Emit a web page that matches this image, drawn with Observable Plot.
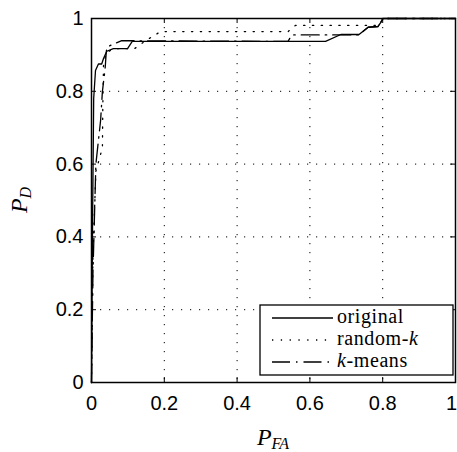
<!DOCTYPE html>
<html><head><meta charset="utf-8">
<script src="https://cdn.jsdelivr.net/npm/d3@7"></script>
<script src="https://cdn.jsdelivr.net/npm/@observablehq/plot@0.6"></script>
<style>html,body{margin:0;padding:0;background:#fff} svg{display:block}</style>
</head><body><div id="chart"></div>
<script>
// ---- data ----
const originalPFA = [0, 0.003, 0.006, 0.011, 0.019, 0.028, 0.033, 0.042, 0.06, 0.099, 0.112, 0.643, 0.685, 0.735, 0.76, 0.787, 0.8, 0.8, 1];
const originalPD  = [0, 0.45, 0.78, 0.857, 0.875, 0.875, 0.89, 0.91, 0.917, 0.917, 0.937, 0.937, 0.956, 0.956, 0.976, 0.978, 0.997, 1, 1];

const randomPFA = [0, 0.004, 0.012, 0.03, 0.031, 0.033, 0.04, 0.06, 0.118, 0.15, 0.19, 0.54, 0.56, 0.79, 0.8, 1];
const randomPD  = [0, 0.35, 0.58, 0.645, 0.755, 0.87, 0.905, 0.917, 0.917, 0.94, 0.964, 0.964, 0.981, 0.981, 1, 1];

const kmeansPFA = [0, 0.004, 0.012, 0.025, 0.03, 0.036, 0.038, 0.04, 0.042, 0.056, 0.083, 0.54, 0.55, 0.735, 0.76, 0.787, 0.8, 1];
const kmeansPD  = [0, 0.3, 0.6, 0.72, 0.8, 0.85, 0.87, 0.9, 0.921, 0.928, 0.939, 0.937, 0.955, 0.955, 0.976, 0.978, 1, 1];

const xTicks = [0, 0.2, 0.4, 0.6, 0.8, 1];
const yTicks = [0, 0.2, 0.4, 0.6, 0.8, 1];
const xTickLabels = ["0", "0.2", "0.4", "0.6", "0.8", "1"];
const yTickLabels = ["0", "0.2", "0.4", "0.6", "0.8", "1"];
const gridValues = [0.2, 0.4, 0.6, 0.8];
const seriesNames = ["original", "random-k", "k-means"];

// ---- styles ----
const seriesDash = ["none", "1.3,7.5", "18,6,1.5,6"];
const W = 457, H = 452, mL = 91, mR = 2, mT = 18, mB = 70;
const innerH = H - mT - mB, innerW = W - mL - mR;
const tickLen = 5;

const toRows = (xs, ys) => xs.map((x, i) => ({x, y: ys[i]}));
const series = [toRows(originalPFA, originalPD), toRows(randomPFA, randomPD), toRows(kmeansPFA, kmeansPD)];
const lastX = xTicks[xTicks.length - 1];

const chart = Plot.plot({
  width: W, height: H,
  marginLeft: mL, marginRight: mR, marginTop: mT, marginBottom: mB,
  x: {domain: [0, 1]},
  y: {domain: [0, 1]},
  style: {fontFamily: "'Liberation Sans', Arial, sans-serif", fontSize: "20px", color: "black", background: "white", overflow: "visible"},
  marks: [
    Plot.gridX(gridValues, {stroke: "black", strokeOpacity: 1, strokeWidth: 1, strokeDasharray: "1.2,7.8"}),
    Plot.gridY(gridValues, {stroke: "black", strokeOpacity: 1, strokeWidth: 1, strokeDasharray: "1.2,7.8"}),
    ...series.map((d, i) => Plot.line(d, {x: "x", y: "y", stroke: "black", strokeWidth: 1.3, strokeDasharray: seriesDash[i], curve: "linear"})),
    // inward ticks on all four sides
    Plot.tickX(xTicks, {x: d => d, stroke: "black", strokeWidth: 1, insetTop: innerH - tickLen}),
    Plot.tickX(xTicks, {x: d => d, stroke: "black", strokeWidth: 1, insetBottom: innerH - tickLen}),
    Plot.tickY(yTicks, {y: d => d, stroke: "black", strokeWidth: 1, insetRight: innerW - tickLen}),
    Plot.tickY(yTicks, {y: d => d, stroke: "black", strokeWidth: 1, insetLeft: innerW - tickLen}),
    Plot.frame({stroke: "black", strokeWidth: 1.5}),
    Plot.axisX(xTicks.filter(d => d !== lastX), {tickSize: 0, tickPadding: 13, tickFormat: d => xTickLabels[xTicks.indexOf(d)], label: null}),
    Plot.axisX([lastX], {tickSize: 0, tickPadding: 13, dx: -4, tickFormat: d => xTickLabels[xTicks.indexOf(d)], label: null}),
    Plot.axisY(yTicks, {tickSize: 0, tickPadding: 8, tickFormat: (d, i) => yTickLabels[i], label: null})
  ]
});
document.getElementById("chart").appendChild(chart);

// ---- legend and axis labels ----
const svg = d3.select(chart);
const serif = "'Liberation Serif', 'Times New Roman', serif";
const lg = svg.append("g").attr("text-anchor", "start");
const bx = 260, by = 305, bw = 193, bh = 70;
lg.append("rect").attr("x", bx).attr("y", by).attr("width", bw).attr("height", bh)
  .attr("fill", "white").attr("stroke", "black").attr("stroke-width", 1.3);
seriesNames.forEach((name, i) => {
  const cy = by + 13 + i * 22;
  lg.append("line").attr("x1", bx + 12).attr("x2", bx + 73).attr("y1", cy).attr("y2", cy)
    .attr("stroke", "black").attr("stroke-width", 1.3)
    .attr("stroke-dasharray", seriesDash[i] === "none" ? null : seriesDash[i]);
  const t = lg.append("text").attr("x", bx + 77).attr("y", cy + 5)
    .attr("text-anchor", "start").attr("letter-spacing", 0.6)
    .attr("font-family", serif).attr("font-size", 20).attr("fill", "black");
  // italic variable k
  const parts = name.split(/(\bk\b)/).filter(s => s.length);
  parts.forEach(p => {
    t.append("tspan").text(p).attr("font-style", p === "k" ? "italic" : null);
  });
});

// x label P_FA
const xl = svg.append("text").attr("x", mL + innerW / 2).attr("y", 445)
  .attr("text-anchor", "middle").attr("font-family", serif).attr("font-style", "italic").attr("fill", "black");
xl.append("tspan").attr("font-size", 24).text("P");
xl.append("tspan").attr("font-size", 16).attr("dy", 4).text("FA");

// y label P_D
const yl = svg.append("text").attr("transform", `translate(27,${mT + innerH / 2}) rotate(-90)`)
  .attr("text-anchor", "middle").attr("font-family", serif).attr("font-style", "italic").attr("fill", "black");
yl.append("tspan").attr("font-size", 24).text("P");
yl.append("tspan").attr("font-size", 16).attr("dy", 4).text("D");
</script>
</body></html>
